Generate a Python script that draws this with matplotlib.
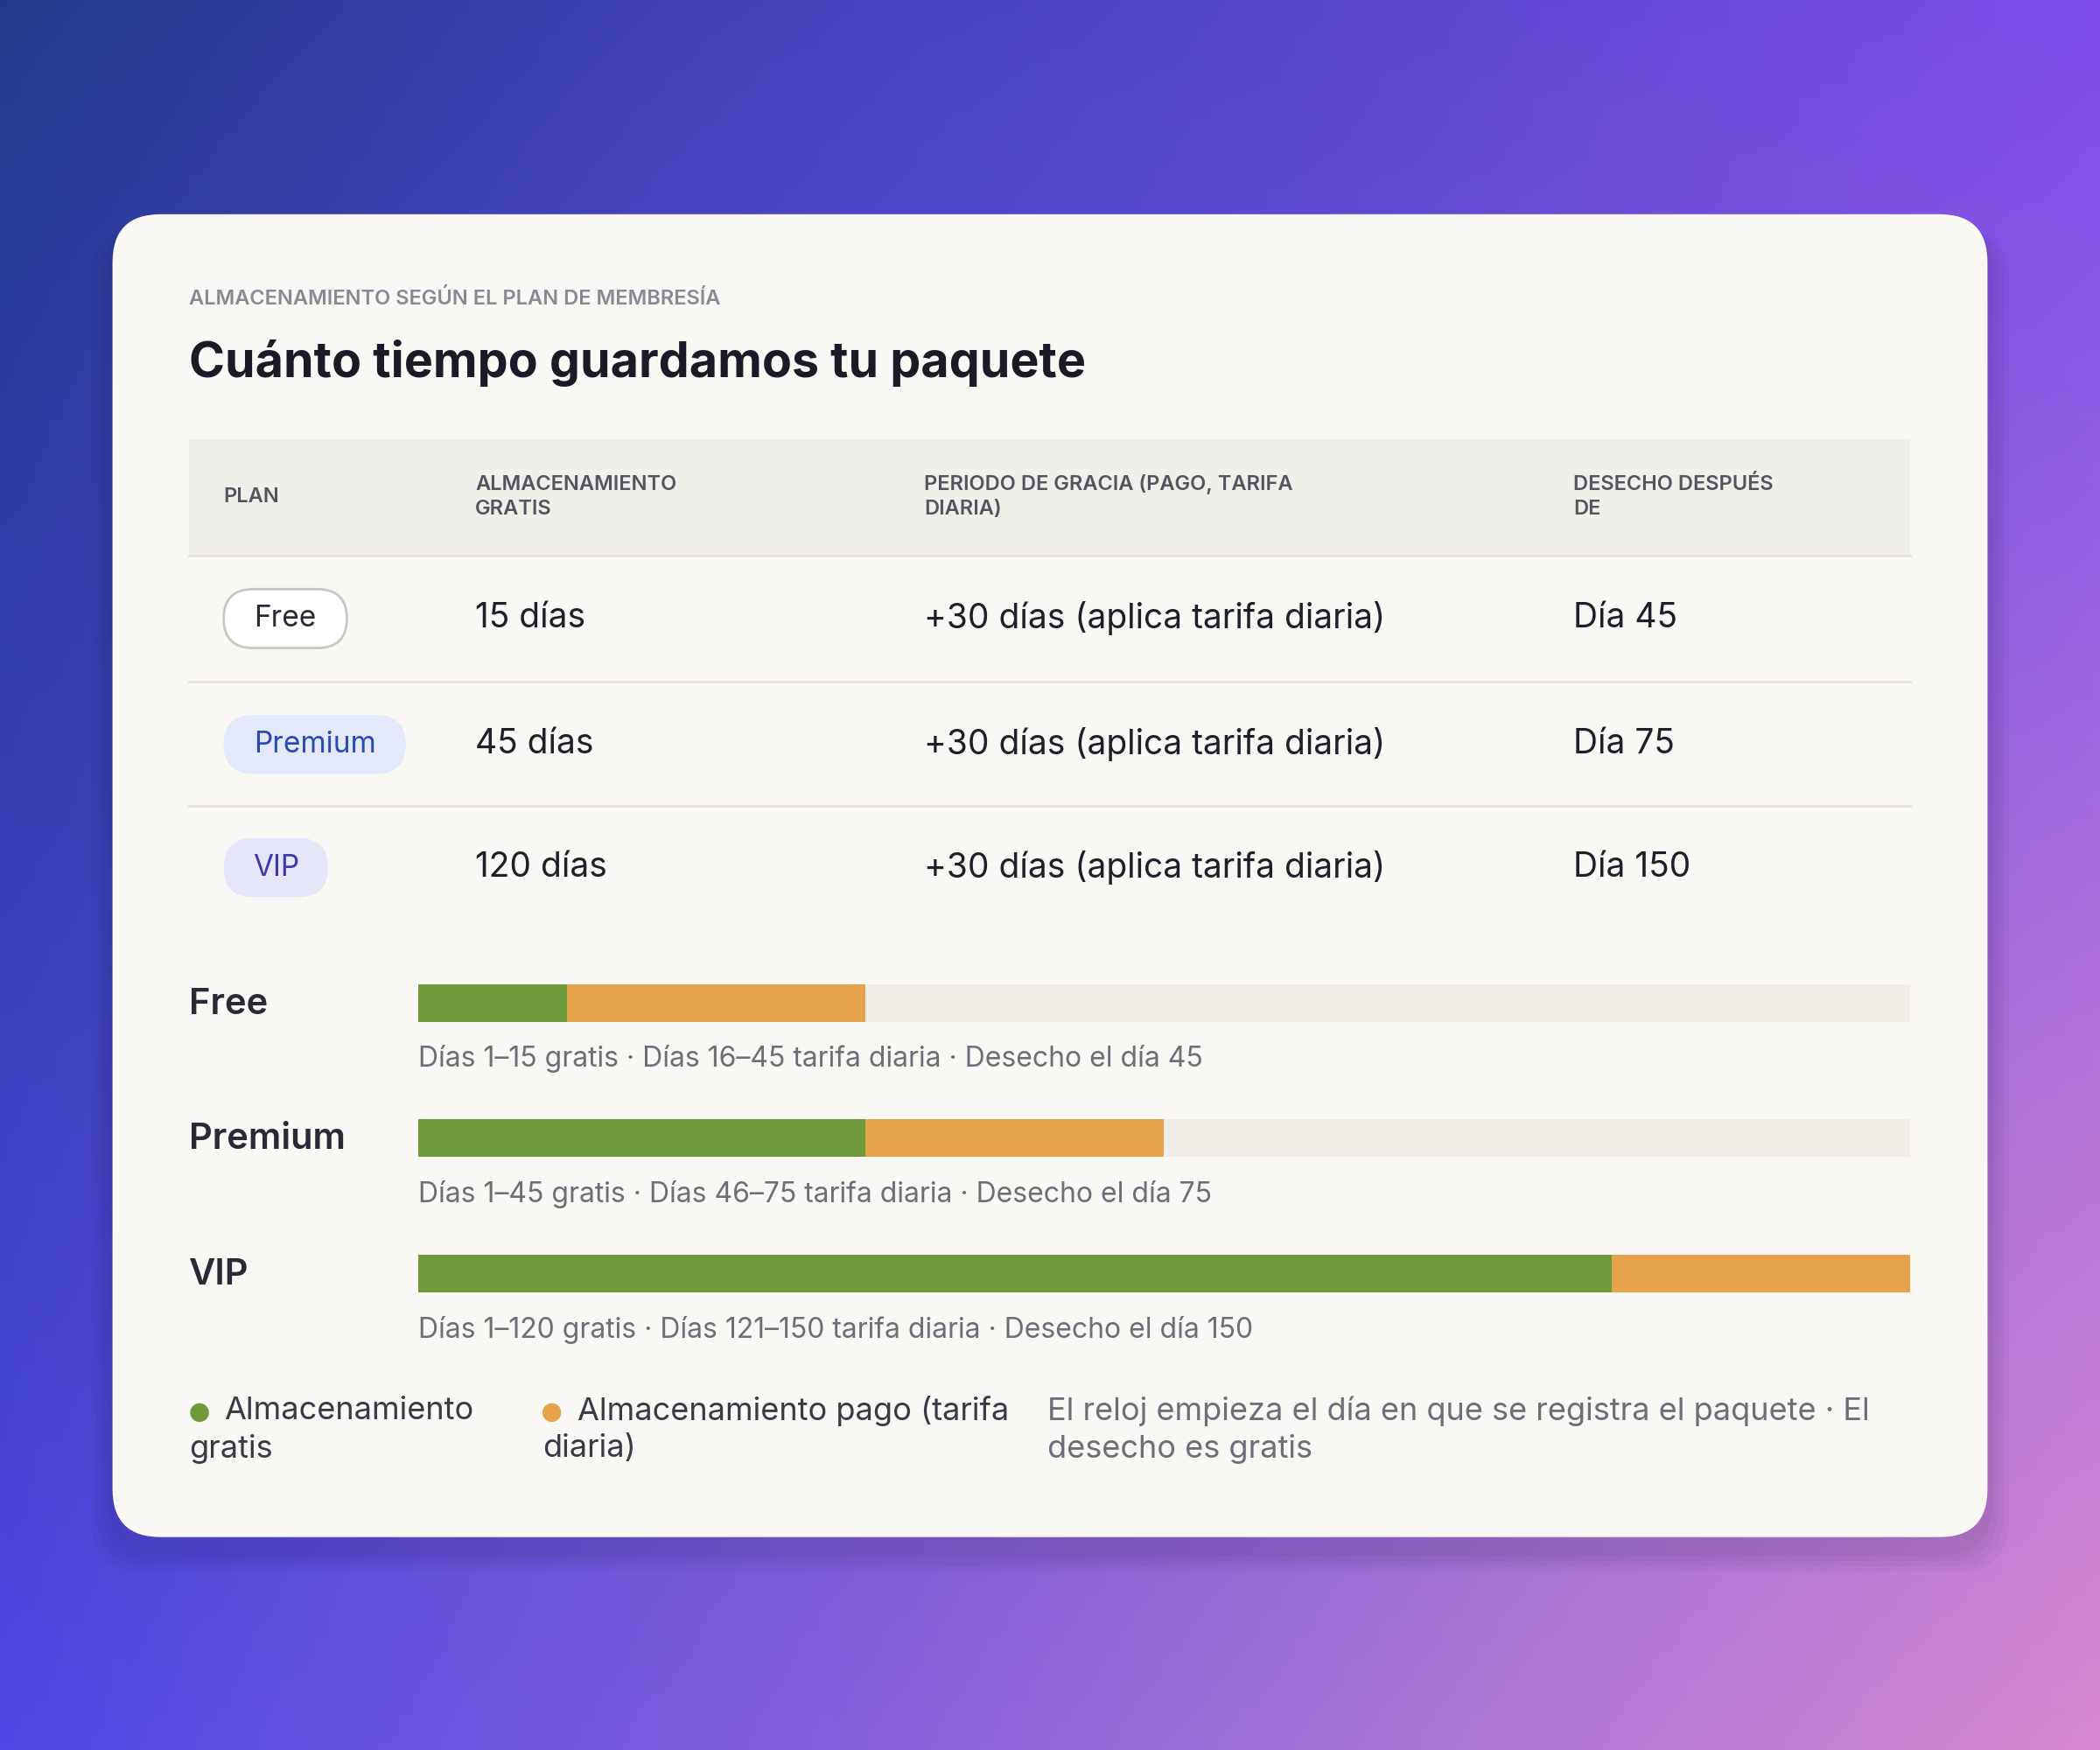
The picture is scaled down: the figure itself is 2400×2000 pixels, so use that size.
import numpy as np
import matplotlib
matplotlib.use("Agg")
import matplotlib.pyplot as plt
from matplotlib.patches import FancyBboxPatch, Rectangle, Circle

plans = ["Free", "Premium", "VIP"]
free_days = [15, 45, 120]
grace_days = [30, 30, 30]
free_col = ["15 días", "45 días", "120 días"]
grace_col = ["+30 días (aplica tarifa diaria)"] * 3
dispose_col = ["Día 45", "Día 75", "Día 150"]
headers = ["PLAN", "ALMACENAMIENTO\nGRATIS", "PERIODO DE GRACIA (PAGO, TARIFA\nDIARIA)", "DESECHO DESPUÉS\nDE"]
captions = ["Días 1–15 gratis · Días 16–45 tarifa diaria · Desecho el día 45",
            "Días 1–45 gratis · Días 46–75 tarifa diaria · Desecho el día 75",
            "Días 1–120 gratis · Días 121–150 tarifa diaria · Desecho el día 150"]
max_days = 150

plt.rcParams['font.family'] = ['Inter', 'DejaVu Sans']
W, H = 1568, 1307
fig = plt.figure(figsize=(12, 10), dpi=200)
ax = fig.add_axes([0, 0, 1, 1])
ax.set_xlim(0, W); ax.set_ylim(H, 0); ax.axis('off')

# gradient background
yy, xx = np.mgrid[0:1:200j, 0:1:240j]
tl = np.array([0x1f, 0x3a, 0x8a]) / 255
tr = np.array([0x7c, 0x4d, 0xec]) / 255
bl = np.array([0x4f, 0x46, 0xe5]) / 255
br = np.array([0xd6, 0x8a, 0xd0]) / 255
mid = np.array([0x4f, 0x46, 0xe5]) / 255
img = (tl * ((1 - xx) * (1 - yy))[..., None] + tr * (xx * (1 - yy))[..., None]
       + bl * ((1 - xx) * yy)[..., None] + br * (xx * yy)[..., None])
w = np.exp(-(((xx - 0.45) ** 2) + ((yy - 0.2) ** 2)) / 0.08)[..., None]
img = img * (1 - 0.4 * w) + mid * 0.4 * w
ax.imshow(img, extent=[0, W, H, 0], aspect='auto', zorder=0)

# shadow + card
for i, a in enumerate([0.04, 0.04, 0.04, 0.04]):
    d = 8 + i * 8
    ax.add_patch(FancyBboxPatch((84 - d / 2, 160 + 10), 1400 + d, 988 + d / 2,
                 boxstyle="round,pad=0,rounding_size=40", fc='#1a1040', ec='none', alpha=a, zorder=1))
ax.add_patch(FancyBboxPatch((84, 160), 1400, 988, boxstyle="round,pad=0,rounding_size=36",
             fc='#f9f8f5', ec='none', zorder=2))

ax.text(141, 223, "ALMACENAMIENTO SEGÚN EL PLAN DE MEMBRESÍA", fontsize=8.5, color='#8a8894',
        va='center', fontweight='semibold', zorder=3, **{})
ax.texts[-1].set_fontstretch('expanded')
ax.text(141, 271, "Cuánto tiempo guardamos tu paquete", fontsize=20, fontweight='bold',
        color='#1b1a26', va='center', zorder=3)

# table header
ax.add_patch(Rectangle((141, 328), 1285, 87, fc='#f1efea', ec='none', zorder=3))
colx = [167, 355, 690, 1175]
import matplotlib.patheffects
for x, h in zip(colx, headers):
    spaced = "\n".join(" ".join(list(l)).replace("   ", "  ") for l in h.split("\n"))
    ax.text(x, 371, h, fontsize=8.5, color='#55535f', va='center', fontweight='semibold',
            linespacing=1.35, zorder=4)
for t in ax.texts[-4:]:
    t.set_text(t.get_text())
for y in [415, 509, 602]:
    ax.plot([141, 1426], [y, y], color='#e4e1db', lw=1, zorder=3)

rowy = [462, 556, 648]
pill = [('#ffffff', '#c9c6c0', '#2a2936', 92), ('#e3e9fb', 'none', '#2b4bb0', 136), ('#e6e6fb', 'none', '#3b3ba8', 78)]
for i, y in enumerate(rowy):
    fc, ec, tc, pw = pill[i]
    ax.add_patch(FancyBboxPatch((167, y - 22), pw, 44, boxstyle="round,pad=0,rounding_size=22",
                 fc=fc, ec=ec, lw=1, zorder=4))
    ax.text(167 + pw / 2, y, plans[i], fontsize=12, color=tc, ha='center', va='center', zorder=5)
    ax.text(355, y, free_col[i], fontsize=14, color='#1f1e2a', va='center', zorder=5)
    ax.text(690, y, grace_col[i], fontsize=14, color='#1f1e2a', va='center', zorder=5)
    ax.text(1175, y, dispose_col[i], fontsize=14, color='#1f1e2a', va='center', zorder=5)

# bars axes
x0, x1 = 312, 1426
bax = fig.add_axes([x0 / W, 1 - 1005 / H, (x1 - x0) / W, (1005 - 730) / H])
bax.set_xlim(0, max_days); bax.set_ylim(1005, 730); bax.axis('off'); bax.patch.set_alpha(0)
bary = [749, 850, 951]
bh = 28
for i, y in enumerate(bary):
    bax.barh(y, max_days, height=bh, color='#f1eee8', zorder=1)
    bax.barh(y, free_days[i], height=bh, color='#6e9a3b', zorder=2)
    bax.barh(y, grace_days[i], left=free_days[i], height=bh, color='#e5a44c', zorder=2)
    ax.text(141, y + 1, plans[i], fontsize=15, fontweight='semibold', color='#2a2936', va='center', zorder=5)
    ax.text(312, y + 42, captions[i], fontsize=11.5, color='#6f6d78', va='center', zorder=5)

# legend
ax.add_patch(Circle((149, 1055), 7, fc='#6e9a3b', ec='none', zorder=5))
ax.text(167, 1054, "Almacenamiento", fontsize=13, color='#3a3946', va='center', zorder=5)
ax.text(141, 1082, "gratis", fontsize=13, color='#3a3946', va='center', zorder=5)
ax.add_patch(Circle((412, 1055), 7, fc='#e5a44c', ec='none', zorder=5))
ax.text(431, 1054, "Almacenamiento pago (tarifa", fontsize=13, color='#3a3946', va='center', zorder=5)
ax.text(405, 1082, "diaria)", fontsize=13, color='#3a3946', va='center', zorder=5)
ax.text(782, 1054, "El reloj empieza el día en que se registra el paquete · El", fontsize=13,
        color='#6f6d78', va='center', zorder=5)
ax.text(782, 1082, "desecho es gratis", fontsize=13, color='#6f6d78', va='center', zorder=5)

fig.savefig("out.png", dpi=200)
